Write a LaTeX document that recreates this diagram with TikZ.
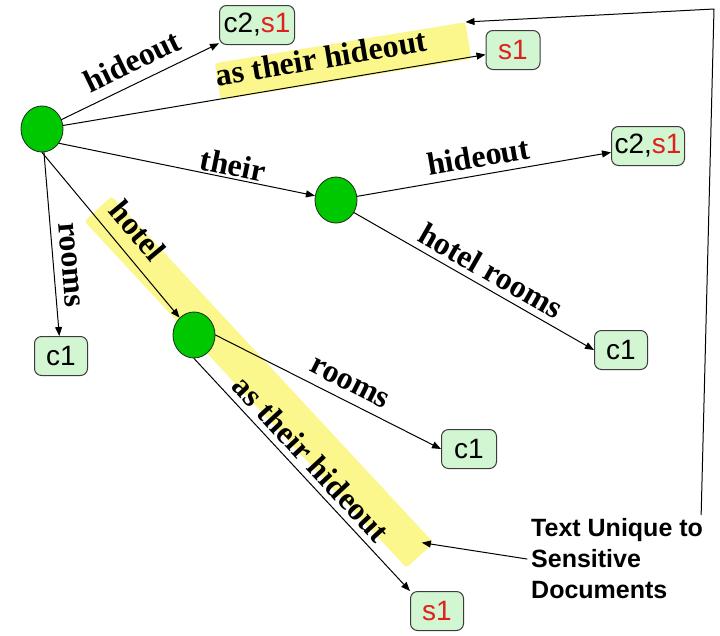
\documentclass[tikz,border=0pt]{standalone}
\usepackage{fontspec}
\setmainfont{Liberation Serif}
\setsansfont{Liberation Sans}
\usetikzlibrary{arrows.meta,calc,shapes.geometric}
\definecolor{trieGreen}{HTML}{00C800}
\definecolor{trieEdge}{HTML}{1E3A1E}
\definecolor{leafFill}{HTML}{D2F5D2}
\definecolor{leafLine}{HTML}{3C3C3C}
\definecolor{sRed}{HTML}{E0201B}
\definecolor{hlYellow}{HTML}{FBF78C}

\begin{document}
\begin{tikzpicture}[x=1pt,y=-1pt,line cap=round,line join=round]
\tikzset{state/.style={ellipse,draw=trieEdge,fill=trieGreen,line width=0.9pt,minimum width=42pt,minimum height=46pt,inner sep=0pt},
leaf/.style={draw=leafLine,fill=leafFill,rounded corners=7pt,line width=1pt,minimum width=53pt,minimum height=39pt,inner sep=0pt,font=\sffamily\fontsize{28}{28}\selectfont},
arr/.style={-{Triangle[length=9pt,width=7pt]},line width=1pt},
lbl/.style={sloped,inner sep=0pt,font=\bfseries\fontsize{32}{32}\selectfont},
band/.style={fill=hlYellow,rounded corners=3pt,minimum height=37pt,inner sep=0pt}}
\path[fill=white] (0,0) rectangle (720,635);
% highlighted runs
\node[band,rotate=9.3,minimum width=254pt] (hl1) at (343,61) {};
\node[band,rotate=-47.1,minimum width=473pt] (hl2) at (259,382) {};
% trie nodes
\node[state] (root) at (42,129) {};
\node[state] (nTheir) at (336,200) {};
\node[state] (nHotel) at (194,335) {};
\node[leaf,minimum width=75pt] (c2a) at (257,25) {c2,\textcolor{sRed}{s1}};
\node[leaf,minimum width=54pt] (s1a) at (513,50) {\textcolor{sRed}{s1}};
\node[leaf,minimum width=73pt] (c2b) at (648,146) {c2,\textcolor{sRed}{s1}};
\node[leaf] (c1l) at (61,356) {c1};
\node[leaf] (c1r) at (621,350) {c1};
\node[leaf,minimum width=55pt] (c1m) at (469,449) {c1};
\node[leaf] (s1b) at (437,611) {\textcolor{sRed}{s1}};
\node[anchor=west,align=left,inner sep=4pt,font=\sffamily\bfseries\fontsize{25}{31}\selectfont] (note) at (527,559) {Text Unique to\\Sensitive\\Documents};
\coordinate (bend) at (714,9);
% edges
\draw[arr] (root) -- (c2a) node[lbl,pos=0.51,above=10pt] {hideout};
\draw[arr] (root) -- (s1a) node[lbl,pos=0.62,above=12pt] {as their hideout};
\draw[arr] (root.-40) -- (nTheir) node[lbl,pos=0.67,above=2pt] {their};
\draw[arr] (root) -- (c1l) node[lbl,pos=0.62,above=8pt] {rooms};
\draw[arr] (root.south) -- (nHotel) node[lbl,pos=0.565,above=12pt] {hotel};
\draw[arr] (nTheir) -- (c2b) node[lbl,pos=0.49,above=7pt] {hideout};
\draw[arr] (nTheir.-35) -- (c1r.west) node[lbl,pos=0.534,above=6pt] {hotel rooms};
\draw[arr] (nHotel.east) -- (c1m.west) node[lbl,pos=0.56,above=9pt] {rooms};
\draw[arr] (nHotel.south) -- (s1b.north west) node[lbl,pos=0.483,above=6pt] {as their hideout};
% pointers from the note
\draw[arr] (note.west) -- ([xshift=-12pt]hl2.north east);
\draw[arr] ([xshift=-6pt]note.north east) -- (bend) -- (hl1.north east);
\end{tikzpicture}
\end{document}
